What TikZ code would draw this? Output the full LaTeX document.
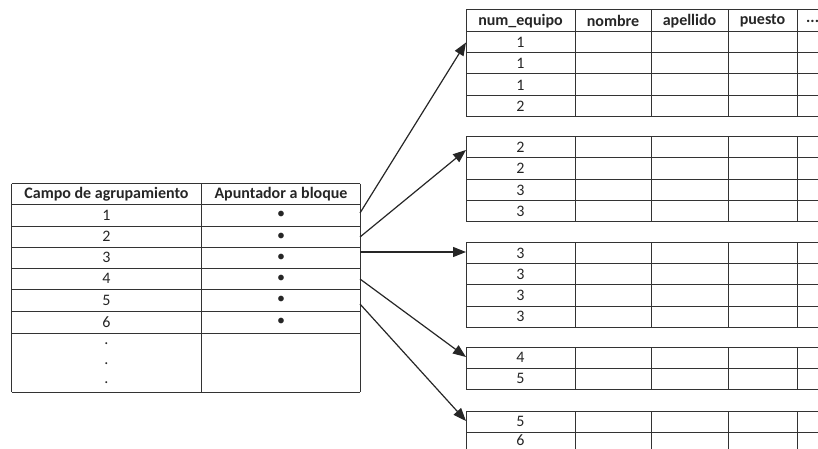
\documentclass[tikz,border=0pt]{standalone}
\usepackage{fontspec}
\setmainfont{Carlito}
\usetikzlibrary{arrows.meta}
\begin{document}
\begin{tikzpicture}[x=1pt,y=-1pt,
  gridline/.style={line width=1pt, draw=black!80},
  cell/.style={font=\fontsize{16}{18}\selectfont, text=black!85, inner sep=0pt, anchor=center},
  head/.style={cell, font=\fontsize{16}{18}\selectfont\bfseries},
  ptr/.style={line width=1.2pt, draw=black!85, -{Triangle[length=13pt,width=10pt]}}]
\useasboundingbox (0,0) rectangle (818,449);
\clip (0,0) rectangle (818,449);
% ---------- left index table ----------
\foreach \y in {183.5,204,226,247,268,289,311,333,392}
  \draw[gridline] (11.5,\y) -- (360,\y);
\foreach \x in {11.5,201.5,360}
  \draw[gridline] (\x,183.5) -- (\x,392);
\node[head] (h1) at (106.5,194) {Campo de agrupamiento};
\node[head] (h2) at (281,194) {Apuntador a bloque};
\foreach \n/\y in {1/215,2/236.5,3/257.5,4/278.5,5/300,6/322}{
  \node[cell] (k\n) at (106.5,\y) {\n};
  \node[cell] (p\n) at (281,\y) {•};
}
\node[cell] (d1) at (106.5,344) {.};
\node[cell] (d2) at (106.5,363.5) {.};
\node[cell] (d3) at (106.5,383) {.};
% ---------- right data blocks ----------
\foreach \top/\bot in {10/117,137/221,242.5/327,347/389,411/453}{
  \foreach \x in {466,575,651,728,797,835}
    \draw[gridline] (\x,\top) -- (\x,\bot);
}
\foreach \y in {10,32,53,74,96,117, 137,158,179,200.5,221, 242.5,263.5,284.5,306,327, 347,368,389, 411,432,453}
  \draw[gridline] (466,\y) -- (835,\y);
% header
\node[head] (c1) at (520.5,21) {num\_equipo};
\node[head] (c2) at (613,21) {nombre};
\node[head] (c3) at (689.5,21) {apellido};
\node[head] (c4) at (762.5,21) {puesto};
\node[head, anchor=west] (c5) at (806,21) {...};
% values
\foreach \v/\y/\nm in {1/42.5/a1,1/63.5/a2,1/85/a3,2/106.5/a4,
  2/147.5/b1,2/168.5/b2,3/190/b3,3/211/b4,
  3/253/e1,3/274/e2,3/295/e3,3/316.5/e4,
  4/357.5/f1,5/378.5/f2,
  5/421.5/g1,6/440.5/g2}
  \node[cell] (\nm) at (520.5,\y) {\v};
% ---------- pointers ----------
\coordinate (s1) at (360,213);
\coordinate (s2) at (360,237);
\coordinate (s3) at (360,252);
\coordinate (s4) at (360,279);
\coordinate (s5) at (360,304);
\coordinate (t1) at (466,42.5);
\coordinate (t2) at (466,150);
\coordinate (t3) at (466,252);
\coordinate (t4) at (466,357);
\coordinate (t5) at (466,421);
\foreach \i in {1,...,5}
  \draw[ptr] (s\i) -- (t\i);
\end{tikzpicture}
\end{document}
